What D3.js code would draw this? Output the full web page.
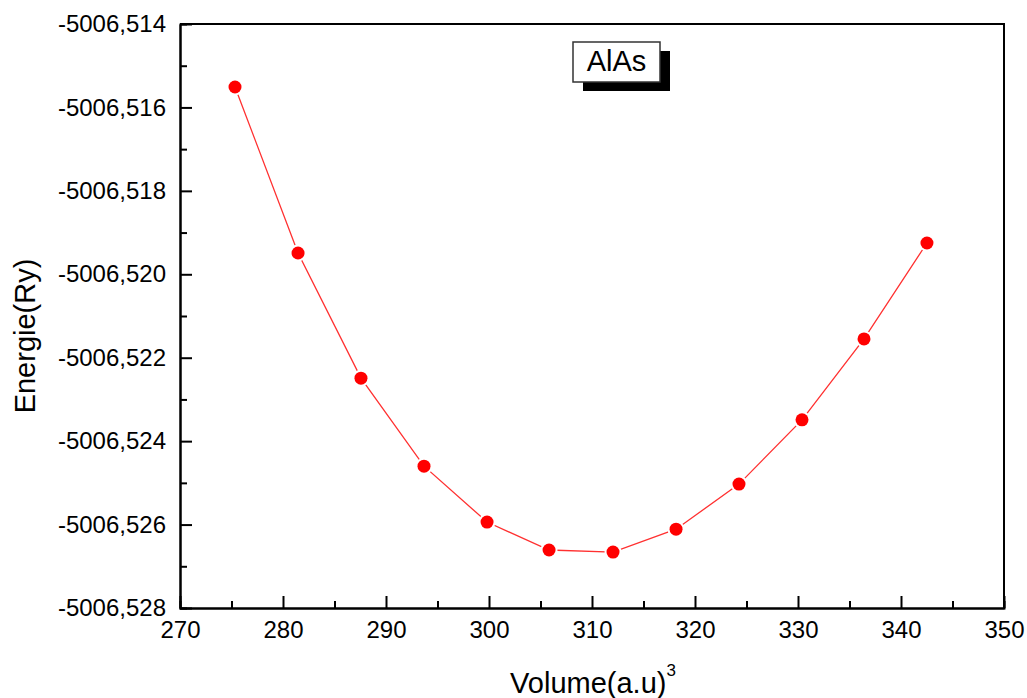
<!DOCTYPE html>
<html lang="en">
  <head>
    <meta charset="utf-8" />
    <title>AlAs – Energie vs Volume</title>
    <style>
      body {
        margin: 0;
        background: #fff;
        font-family: 'Liberation Sans', Arial, sans-serif;
      }
      .axis path,
      .axis line {
        stroke: #000;
        stroke-width: 2;
      }
      .axis text {
        font-family: 'Liberation Sans', Arial, sans-serif;
        font-size: 24px;
        fill: #000;
      }
    </style>
    <script src="https://d3js.org/d3.v7.min.js"></script>
  </head>

  <body>
    <svg width="1027" height="698"></svg>

    <script>
      // data
      const volume = [
        275.34, 281.46, 287.57, 293.69, 299.81, 305.83, 312.04, 318.16,
        324.27, 330.39, 336.41, 342.52,
      ];
      const energy = [
        -5006.51551, -5006.51949, -5006.52249, -5006.5246, -5006.52594,
        -5006.52661, -5006.52666, -5006.52611, -5006.52503, -5006.52349,
        -5006.52155, -5006.51925,
      ];
      const xTicks = [270, 280, 290, 300, 310, 320, 330, 340, 350];
      const yTicks = [
        -5006.528, -5006.526, -5006.524, -5006.522, -5006.52, -5006.518,
        -5006.516, -5006.514,
      ];
      const label = 'AlAs';

      const svg = d3.select('svg');
      const m = { left: 180, top: 24, right: 1004, bottom: 608 };

      const x = d3.scaleLinear().domain([270, 350]).range([m.left, m.right]);
      const y = d3
        .scaleLinear()
        .domain([-5006.528, -5006.514])
        .range([m.bottom, m.top]);

      const loc = d3.formatLocale({
        decimal: ',',
        thousands: '',
        grouping: [3],
        currency: ['', ''],
        minus: '-',
      });
      const fmt = loc.format('.3f');

      // frame: top and right plain lines
      svg
        .append('path')
        .attr('d', `M${m.left},${m.top}H${m.right}V${m.bottom}`)
        .attr('fill', 'none')
        .attr('stroke', '#000')
        .attr('stroke-width', 2);

      // minor ticks
      const xMinor = d3.range(275, 350, 10);
      const yMinor = d3.range(0, 7).map((i) => -5006.527 + i * 0.002);

      svg
        .append('g')
        .attr('class', 'axis')
        .attr('transform', `translate(0,${m.bottom})`)
        .call(
          d3.axisBottom(x).tickValues(xMinor).tickSize(-7).tickFormat(''),
        );
      svg
        .append('g')
        .attr('class', 'axis')
        .attr('transform', `translate(${m.left},0)`)
        .call(d3.axisLeft(y).tickValues(yMinor).tickSize(-7).tickFormat(''));

      // major ticks
      svg
        .append('g')
        .attr('class', 'axis')
        .attr('transform', `translate(0,${m.bottom})`)
        .call(
          d3
            .axisBottom(x)
            .tickValues(xTicks)
            .tickSize(-12)
            .tickSizeOuter(0)
            .tickPadding(13),
        );
      svg
        .append('g')
        .attr('class', 'axis')
        .attr('transform', `translate(${m.left},0)`)
        .call(
          d3
            .axisLeft(y)
            .tickValues(yTicks)
            .tickSize(-12)
            .tickSizeOuter(0)
            .tickPadding(14)
            .tickFormat(fmt),
        );

      // curve
      const pts = volume.map((v, i) => [v, energy[i]]);
      svg
        .append('path')
        .datum(pts)
        .attr('fill', 'none')
        .attr('stroke', '#ff3030')
        .attr('stroke-width', 1.3)
        .attr(
          'd',
          d3
            .line()
            .x((d) => x(d[0]))
            .y((d) => y(d[1])),
        );

      svg
        .selectAll('.pt')
        .data(pts)
        .enter()
        .append('circle')
        .attr('class', 'pt')
        .attr('cx', (d) => x(d[0]))
        .attr('cy', (d) => y(d[1]))
        .attr('r', 6.5)
        .attr('fill', '#ff0000')
        .attr('stroke', '#fff')
        .attr('stroke-width', 4)
        .attr('paint-order', 'stroke');

      // label box with shadow
      const bx = 573,
        by = 42,
        bw = 87,
        bh = 40;
      svg
        .append('rect')
        .attr('x', bx + 10)
        .attr('y', by + 9)
        .attr('width', bw)
        .attr('height', bh)
        .attr('fill', '#000');
      svg
        .append('rect')
        .attr('x', bx)
        .attr('y', by)
        .attr('width', bw)
        .attr('height', bh)
        .attr('fill', '#fff')
        .attr('stroke', '#333')
        .attr('stroke-width', 1.5);
      svg
        .append('text')
        .attr('x', bx + bw / 2)
        .attr('y', by + 29)
        .attr('text-anchor', 'middle')
        .style('font-size', '29px')
        .text(label);

      // axis titles
      svg
        .append('text')
        .attr('transform', 'translate(35,336) rotate(-90)')
        .attr('text-anchor', 'middle')
        .style('font-size', '29px')
        .text('Energie(Ry)');

      const xt = svg
        .append('text')
        .attr('x', 593)
        .attr('y', 693)
        .attr('text-anchor', 'middle')
        .style('font-size', '29px');
      xt.append('tspan').text('Volume(a.u)');
      xt.append('tspan')
        .attr('dy', -17)
        .style('font-size', '17px')
        .text('3');
    </script>
  </body>
</html>
